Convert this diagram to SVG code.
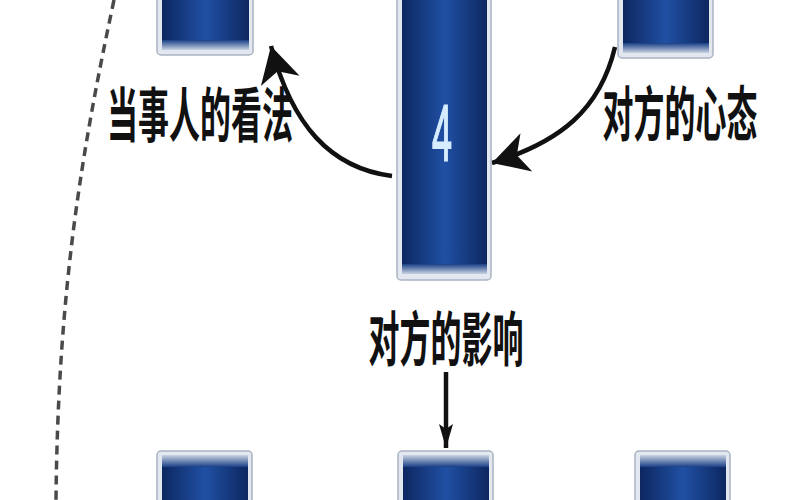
<svg xmlns="http://www.w3.org/2000/svg" width="800" height="500" viewBox="0 0 800 500">
<style>
.frame{fill:#e3e8f0;stroke:#a9b3c2;stroke-width:1.5}
.inner{fill:url(#blue)}
.lbl{font-family:"Noto Sans CJK SC","Liberation Sans",sans-serif;font-weight:bold;font-size:31px;fill:#111;text-anchor:middle}
.conn{fill:none;stroke:#111;stroke-width:4.5}
</style>
<defs>
<linearGradient id="blue" x1="0" y1="0" x2="1" y2="0">
<stop offset="0" stop-color="#0d2760"/>
<stop offset="0.5" stop-color="#2050a4"/>
<stop offset="1" stop-color="#0d2760"/>
</linearGradient>
<linearGradient id="bandDown" x1="0" y1="0" x2="0" y2="1">
<stop offset="0" stop-color="#1a3f86"/>
<stop offset="1" stop-color="#c9d3e3"/>
</linearGradient>
<linearGradient id="bandUp" x1="0" y1="0" x2="0" y2="1">
<stop offset="0" stop-color="#c9d3e3"/>
<stop offset="1" stop-color="#1a3f86"/>
</linearGradient>
<marker id="bigHead" markerUnits="userSpaceOnUse" markerWidth="40" markerHeight="44" refX="36" refY="22" orient="auto">
<path d="M0,2 L36,22 L0,42 L10,22 Z" fill="#111"/>
</marker>
<marker id="smallHead" markerUnits="userSpaceOnUse" markerWidth="26" markerHeight="14" refX="24" refY="7" orient="auto">
<path d="M0,0 L24,7 L0,14 L5,7 Z" fill="#111"/>
</marker>
</defs>
<rect width="800" height="500" fill="#ffffff"/>

<g id="connectors">
<path d="M114,0 C82,150 58,290 56,500" fill="none" stroke="#4a4a4a" stroke-width="3.5" stroke-dasharray="9,6"/>
<path class="conn" d="M392,176 C330,168 292,125 271,46" marker-end="url(#bigHead)"/>
<path class="conn" d="M615,47 C600,110 560,142 492,163" marker-end="url(#bigHead)"/>
<path class="conn" d="M446,372 L446,448" stroke-width="2.5" marker-end="url(#smallHead)"/>
</g>

<g id="card-top-left">
<rect class="frame" x="157" y="-10" width="96" height="65" rx="4"/>
<rect class="inner" x="162" y="-10" width="87" height="50"/>
<rect x="162" y="40" width="87" height="10" fill="url(#bandDown)"/>
</g>

<g id="card-top-right">
<rect class="frame" x="618" y="-10" width="95" height="68" rx="4"/>
<rect class="inner" x="623" y="-10" width="86" height="53"/>
<rect x="623" y="43" width="86" height="10" fill="url(#bandDown)"/>
</g>

<g id="card-4">
<rect class="frame" x="397" y="-10" width="94" height="290" rx="4"/>
<rect class="inner" x="402" y="-10" width="85" height="278"/>
<rect x="402" y="264" width="85" height="10" fill="url(#bandDown)"/>
<text transform="translate(442,160) scale(1,2.2)" font-family="Liberation Sans, sans-serif" font-size="36" fill="#d6ecff" stroke="#d6ecff" stroke-width="0.8" text-anchor="middle">4</text>
</g>

<g id="card-bottom-left">
<rect class="frame" x="157" y="451" width="95" height="60" rx="4"/>
<rect x="162" y="455" width="86" height="12" fill="url(#bandUp)"/>
<rect class="inner" x="162" y="467" width="86" height="40"/>
</g>

<g id="card-bottom-mid">
<rect class="frame" x="398" y="451" width="95" height="60" rx="4"/>
<rect x="403" y="455" width="86" height="12" fill="url(#bandUp)"/>
<rect class="inner" x="403" y="467" width="86" height="40"/>
</g>

<g id="card-bottom-right">
<rect class="frame" x="635" y="451" width="95" height="60" rx="4"/>
<rect x="640" y="455" width="86" height="12" fill="url(#bandUp)"/>
<rect class="inner" x="640" y="467" width="86" height="40"/>
</g>

<g id="labels">
<text class="lbl" transform="translate(200,137) scale(1,1.9)">当事人的看法</text>
<text class="lbl" transform="translate(680,136) scale(1,1.9)">对方的心态</text>
<text class="lbl" transform="translate(446,361) scale(1,1.9)">对方的影响</text>
</g>
</svg>
